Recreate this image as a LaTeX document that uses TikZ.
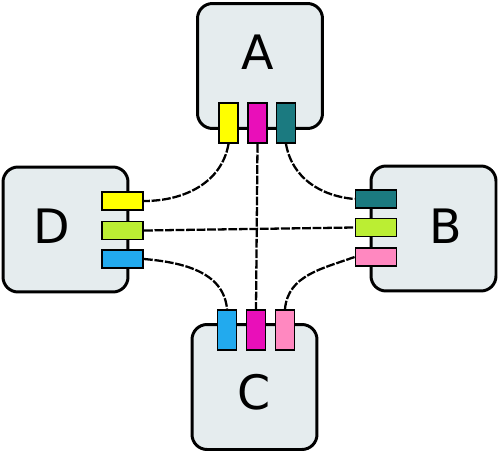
\documentclass[tikz,border=0pt]{standalone}
\usepackage{fontspec}
\setmainfont{DejaVu Sans}
\usepackage{tikz}
\usetikzlibrary{positioning,calc}
\definecolor{boxgray}{HTML}{E5ECEE}
\definecolor{pyellow}{HTML}{FFFF00}
\definecolor{pmagenta}{HTML}{E90FB9}
\definecolor{pteal}{HTML}{1B7A80}
\definecolor{plime}{HTML}{BBEE33}
\definecolor{pblue}{HTML}{22AAEE}
\definecolor{ppink}{HTML}{FF88C0}
\tikzstyle{box} = [draw=black, line width=1.7pt, fill=boxgray, rounded corners=0.3cm, minimum width=2.5cm, minimum height=2.5cm]
\tikzstyle{vport} = [draw=black, line width=1.1pt, minimum width=0.38cm, minimum height=0.8cm, inner sep=0pt]
\tikzstyle{hport} = [draw=black, line width=1.1pt, minimum width=0.82cm, minimum height=0.36cm, inner sep=0pt]
\tikzstyle{link} = [line width=1.3pt, dash pattern=on 5pt off 1pt]
\tikzstyle{boxlabel} = [font=\fontsize{27}{30}\selectfont]

\begin{document}
\begin{tikzpicture}[x=0.02cm, y=0.02cm]
    \useasboundingbox (0,0) rectangle (500,-453);
    % boxes
    \node[box] (A) at (260,-66) {}; \node[box] (B) at (433.5,-228.5) {};
    \node[box] (C) at (254.5,-387) {}; \node[box] (D) at (65.5,-229.5) {};
    \node[boxlabel] (labA) at (258,-52) {A}; \node[boxlabel] (labB) at (446,-226) {B};
    \node[boxlabel] (labC) at (254,-392) {C}; \node[boxlabel] (labD) at (52,-226) {D};
    % ports
    \node[vport, fill=pyellow] (Ay) at (228.5,-123) {}; \node[vport, fill=pmagenta] (Am) at (257.5,-123) {}; \node[vport, fill=pteal] (At) at (286,-123) {};
    \node[vport, fill=pblue] (Cb) at (227,-330) {}; \node[vport, fill=pmagenta] (Cm) at (256,-330) {}; \node[vport, fill=ppink] (Cp) at (285,-330) {};
    \node[hport, fill=pyellow] (Dy) at (122.5,-201) {}; \node[hport, fill=plime] (Dl) at (122.5,-230.5) {}; \node[hport, fill=pblue] (Db) at (122.5,-259) {};
    \node[hport, fill=pteal] (Bt) at (376,-199) {}; \node[hport, fill=plime] (Bl) at (376,-227.5) {}; \node[hport, fill=ppink] (Bp) at (376,-257) {};
    % links
    \draw[link] (Ay.south) to[out=-100, in=0] (Dy.east);
    \draw[link] (At.south) to[out=-80, in=175] (Bt.west);
    \draw[link] (Db.east) to[out=-5, in=95] (Cb.north);
    \draw[link] (Bp.west) to[out=-160, in=85] (Cp.north);
    \draw[link] (Am.south) -- (Cm.north);
    \draw[link] (Dl.east) -- (Bl.west);
\end{tikzpicture}
\end{document}
